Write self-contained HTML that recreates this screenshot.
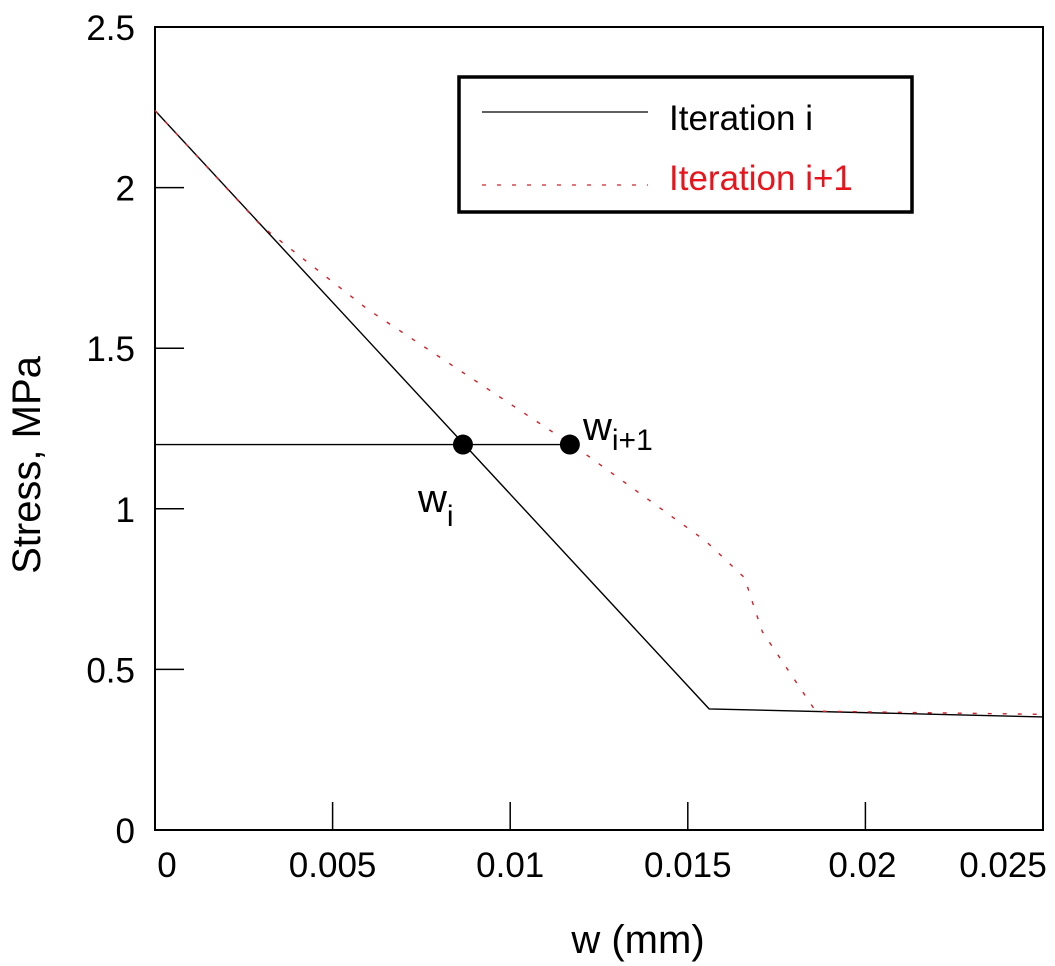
<!DOCTYPE html>
<html><head><meta charset="utf-8"><style>
body{margin:0;background:#fff}
svg{display:block;font-family:"Liberation Sans",Arial,sans-serif}
</style></head><body>
<svg id="chart" width="1055" height="966" viewBox="0 0 1055 966">
<g id="axes"></g>
<g id="series"></g>
<g>
<rect x="459" y="77" width="453" height="135" fill="#fff" stroke="#000" stroke-width="3.5"/>
<line x1="482" y1="112" x2="648" y2="112" stroke="#000" stroke-width="1.3"/>
<text x="669" y="130" font-size="35">Iteration i</text>
<line x1="482" y1="185" x2="648" y2="185" stroke="#d0202a" stroke-width="1.3" stroke-dasharray="4,11"/>
<text x="669" y="190" font-size="35" fill="#e8141c">Iteration i+1</text>
</g>
<text x="638" y="953" font-size="40" text-anchor="middle">w (mm)</text>
<text transform="translate(40,465) rotate(-90)" font-size="40" text-anchor="middle">Stress, MPa</text>
<text x="418" y="512" font-size="40">w<tspan font-size="30" dy="14">i</tspan></text>
<text x="583" y="440" font-size="40">w<tspan font-size="30" dy="10">i+1</tspan></text>
</svg>
<script>
const xTicks=[0,0.005,0.01,0.015,0.02,0.025];
const xTickLabels=["0","0.005","0.01","0.015","0.02","0.025"];
const yTicks=[0,0.5,1,1.5,2,2.5];
const yTickLabels=["0","0.5","1","1.5","2","2.5"];
const iterIx=[0,0.0156,0.025];
const iterIy=[2.24,0.377,0.352];
const iterI1x=[0,0.003,0.006,0.009,0.012,0.0155,0.0166,0.0168,0.0171,0.0186,0.025];
const iterI1y=[2.24,1.88,1.62,1.40,1.18,0.90,0.785,0.716,0.617,0.37,0.36];
const stressLevel=[1.2];
const markerX=[0.00867,0.01168];

const X=v=>155+v/0.025*888;
const Y=v=>830-v/2.5*803;
const NS="http://www.w3.org/2000/svg";
function mk(tag,attrs,parent){const e=document.createElementNS(NS,tag);for(const k in attrs)e.setAttribute(k,attrs[k]);parent.appendChild(e);return e;}
const axes=document.getElementById('axes'),series=document.getElementById('series');
let f=mk('rect',{x:155,y:27,width:888,height:803,fill:'none',stroke:'#000','stroke-width':2},axes);


xTicks.forEach((t,i)=>{
 let l=mk('line',{x1:X(t),x2:X(t),y1:830,y2:802,stroke:'#000','stroke-width':1.5},axes);
 
 
 let tx=mk('text',{x:X(t)+(i==0?12:(i==5?-40:(i==4?-3:0))),y:877,'font-size':35,'text-anchor':'middle'},axes);
 tx.textContent=xTickLabels[i];
 
 
});
yTicks.forEach((t,i)=>{
 let l=mk('line',{x1:155,x2:184,y1:Y(t),y2:Y(t),stroke:'#000','stroke-width':1.5},axes);
 
 
 let tx=mk('text',{x:135,y:Y(t)+13,'font-size':35,'text-anchor':'end'},axes);
 tx.textContent=yTickLabels[i];
 
 
});
let p1=mk('polyline',{points:iterIx.map((v,i)=>X(v)+','+Y(iterIy[i])).join(' '),fill:'none',stroke:'#000','stroke-width':1.4},series);


let p2=mk('polyline',{points:iterI1x.map((v,i)=>X(v)+','+Y(iterI1y[i])).join(' '),fill:'none',stroke:'#d0202a','stroke-width':1.4,'stroke-dasharray':'4,11'},series);


let h=mk('line',{x1:X(0),x2:X(markerX[1]),y1:Y(stressLevel[0]),y2:Y(stressLevel[0]),stroke:'#000','stroke-width':1.4},series);


markerX.forEach(m=>{
 let c=mk('circle',{cx:X(m),cy:Y(stressLevel[0]),r:10,fill:'#000'},series);
 
 
});
</script>
</body></html>
